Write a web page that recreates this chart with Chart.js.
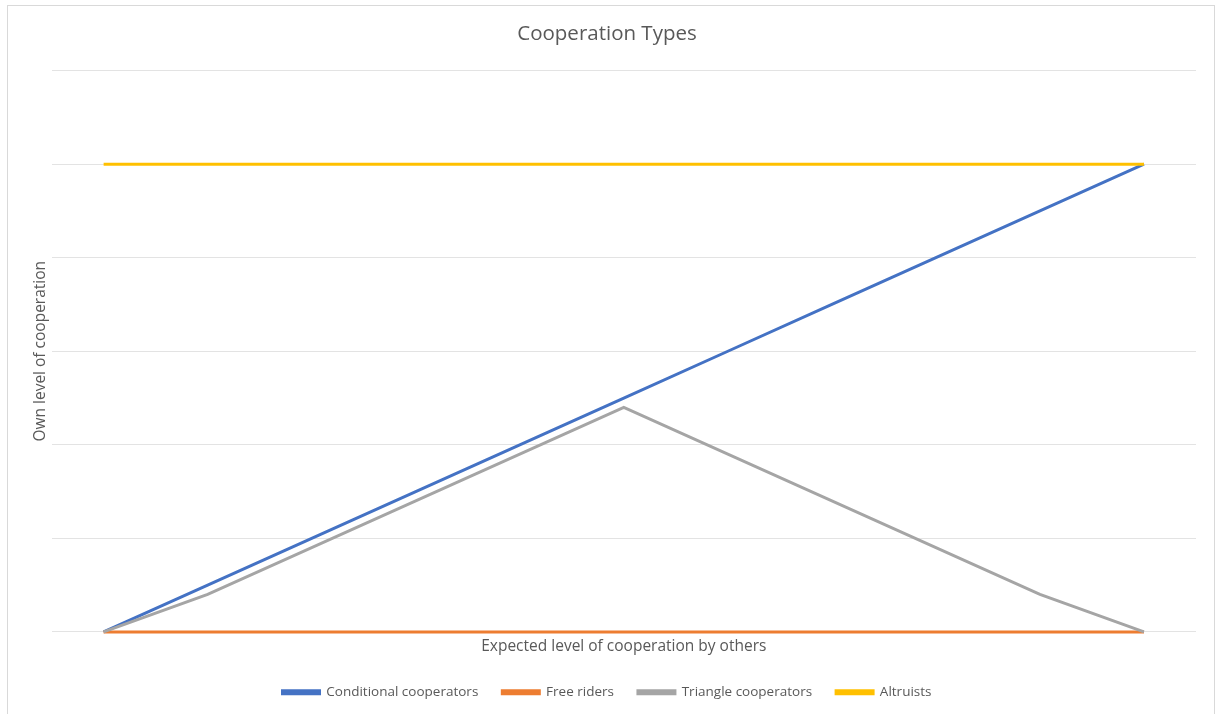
<!DOCTYPE html>
<html>
<head>
<meta charset="utf-8">
<script src="https://cdn.jsdelivr.net/npm/chart.js@4.4.1/dist/chart.umd.min.js"></script>
<style>
  html, body { margin: 0; padding: 0; background: #ffffff; }
  #wrap { position: relative; width: 1219px; height: 714px; }
  #frame { position: absolute; left: 7px; top: 5px; width: 1208px; height: 720px; border: 1px solid #d9d9d9; box-sizing: border-box; }
  canvas { position: absolute; left: 0; top: 0; }
</style>
</head>
<body>
<div id="wrap">
  <div id="frame"></div>
  <canvas id="chart" width="1219" height="714"></canvas>
</div>
<script>
// Expected level of cooperation by others: 0..10 (unlabelled steps)
const categories = ['0', '1', '2', '3', '4', '5', '6', '7', '8', '9', '10'];

// Own level of cooperation for each type
const conditionalCooperators = [0, 0.5, 1, 1.5, 2, 2.5, 3, 3.5, 4, 4.5, 5];
const freeRiders = [0, 0, 0, 0, 0, 0, 0, 0, 0, 0, 0];
const triangleCooperators = [0, 0.4, null, null, null, 2.4, null, null, null, 0.4, 0];
const altruists = [5, 5, 5, 5, 5, 5, 5, 5, 5, 5, 5];

const seriesNames = ['Conditional cooperators', 'Free riders', 'Triangle cooperators', 'Altruists'];
const seriesColors = ['#4472C4', '#ED7D31', '#A5A5A5', '#FFC000'];
const seriesData = [conditionalCooperators, freeRiders, triangleCooperators, altruists];

const FONT = "'Open Sans', 'Liberation Sans', sans-serif";
const TEXT = '#595959';

new Chart(document.getElementById('chart'), {
  type: 'line',
  data: {
    labels: categories,
    datasets: seriesData.map((d, i) => ({
      label: seriesNames[i],
      data: d,
      borderColor: seriesColors[i],
      backgroundColor: seriesColors[i],
      borderWidth: 3,
      pointRadius: 0,
      pointHoverRadius: 0,
      tension: 0,
      spanGaps: true,
      fill: false,
      clip: 6,
      // later series are painted on top
      order: seriesData.length - i
    }))
  },
  options: {
    responsive: false,
    animation: false,
    layout: { padding: { left: 18, right: 23, top: 0, bottom: 5 } },
    plugins: {
      tooltip: { enabled: false },
      title: {
        display: true,
        text: 'Cooperation Types',
        color: TEXT,
        font: { family: FONT, size: 20.5, weight: 'normal' },
        padding: { top: 22, bottom: 24 }
      },
      legend: {
        position: 'bottom',
        labels: {
          color: TEXT,
          font: { family: FONT, size: 13.5 },
          boxWidth: 37,
          boxHeight: 3,
          padding: 24,
          sort: (a, b) => a.datasetIndex - b.datasetIndex
        }
      }
    },
    scales: {
      x: {
        offset: true,
        grid: { display: false },
        border: { display: false },
        ticks: { display: false },
        title: {
          display: true,
          text: 'Expected level of cooperation by others',
          color: TEXT,
          font: { family: FONT, size: 15.5 },
          padding: { top: -3, bottom: 6 }
        }
      },
      y: {
        min: 0,
        max: 6,
        ticks: { display: false, stepSize: 1 },
        grid: { color: '#e3e3e3', lineWidth: 1, drawTicks: false },
        border: { display: false },
        title: {
          display: true,
          text: 'Own level of cooperation',
          color: TEXT,
          font: { family: FONT, size: 15.5 },
          padding: { top: 13, bottom: 2 }
        }
      }
    }
  }
});
</script>
</body>
</html>
